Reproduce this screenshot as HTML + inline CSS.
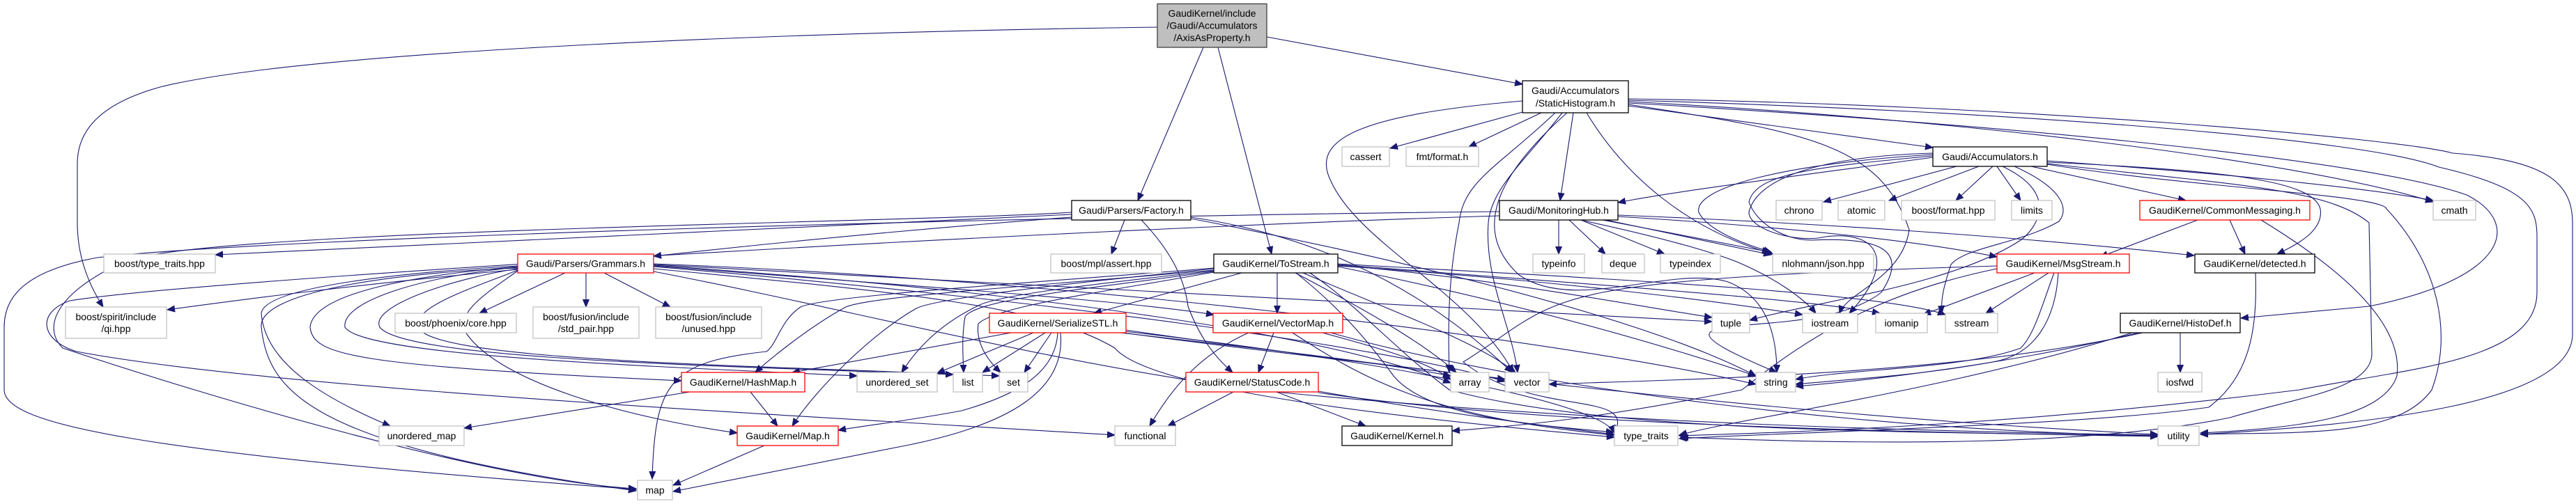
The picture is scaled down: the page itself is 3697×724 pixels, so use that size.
<!DOCTYPE html>
<html><head><meta charset="utf-8"><style>
html,body{margin:0;padding:0;background:#fff;}
svg{display:block;}
text{font-family:"Liberation Sans",sans-serif;font-size:14px;fill:#000;text-anchor:middle;}
.e{fill:none;stroke:#191970;stroke-width:1.1;marker-end:url(#a);}
.g{fill:#fff;stroke:#bfbfbf;stroke-width:1.2;}
.b{fill:#fff;stroke:#000;stroke-width:1.3;}
.r{fill:#fff;stroke:#ff0000;stroke-width:1.3;}
</style></head><body>
<svg width="3697" height="724" viewBox="0 0 3697 724" xmlns="http://www.w3.org/2000/svg">
<defs><marker id="a" markerUnits="userSpaceOnUse" markerWidth="12" markerHeight="10" refX="11" refY="5" orient="auto"><path d="M0,0.5 L11,5 L0,9.5 z" fill="#191970" stroke="#191970"/></marker></defs>

<!-- edges: root -->
<path class="e" d="M1661,39 C1200,45 450,70 230,125 C140,150 111,190 111,235 L111,320 C111,370 128,410 148,441"/>
<path class="e" d="M1727,68 L1633,288"/>
<path class="e" d="M1748,68 L1825,365"/>
<path class="e" d="M1818,53 L2185,121"/>

<!-- StaticHistogram -->
<path class="e" d="M2185,161 L1995,213"/>
<path class="e" d="M2212,162 L2108,211"/>
<path class="e" d="M2258,162 L2239,288"/>
<path class="e" d="M2232,162 C2150,240 2100,260 2094,320 C2078,400 2078,470 2080,535"/>
<path class="e" d="M2242,162 C2190,230 2140,270 2136,320 C2130,400 2170,470 2178,535"/>
<path class="e" d="M2185,145 C1950,165 1880,200 1910,260 C1950,350 2110,420 2172,535"/>
<path class="e" d="M2277,162 C2330,250 2420,330 2545,365"/>
<path class="e" d="M2249,162 C2150,250 2110,330 2180,395 C2260,450 2400,380 2480,405 C2545,430 2550,500 2550,535"/>
<path class="e" d="M2337,152 L2774,212"/>
<path class="e" d="M2337,146 C2800,170 3300,230 3492,290"/>
<path class="e" d="M2337,142 C2900,150 3450,200 3520,220 C3650,230 3692,260 3692,320 L3692,480 C3692,580 3400,610 3158,624"/>
<path class="e" d="M2337,144 C2900,160 3400,200 3500,240 C3630,270 3641,300 3641,340 L3641,420 C3641,520 3450,530 3300,560 C2900,610 2600,620 2410,626"/>
<path class="e" d="M2337,148 C2900,180 3400,230 3540,280 C3620,320 3600,400 3400,440 L3216,457"/>
<path class="e" d="M2337,150 C2600,190 2700,210 2740,330 C2730,400 2650,420 2640,450"/>

<!-- Accumulators -->
<path class="e" d="M2774,226 C2600,250 2400,275 2322,291"/>
<path class="e" d="M2808,239 L2617,290"/>
<path class="e" d="M2840,239 L2711,288"/>
<path class="e" d="M2860,239 L2807,288"/>
<path class="e" d="M2866,239 L2900,288"/>
<path class="e" d="M2915,239 L3137,288"/>
<path class="e" d="M2938,231 C3200,250 3400,270 3492,288"/>
<path class="e" d="M2938,233 C3200,245 3320,260 3330,300 C3335,330 3300,350 3268,365"/>
<path class="e" d="M2938,235 C3200,265 3340,270 3400,320 L3404,510 C3400,560 3300,570 3200,600 C3000,640 2700,640 2412,628"/>
<path class="e" d="M2938,236 C3150,270 3420,280 3425,300 C3500,380 3520,480 3490,560 C3440,630 3300,620 3158,624"/>
<path class="e" d="M2891,239 C2960,270 2970,300 2955,318 C2900,350 2820,355 2800,380 C2790,410 2785,430 2787,450"/>
<path class="e" d="M2874,239 C2960,280 2920,330 2900,345 C2800,410 2620,430 2511,460"/>
<path class="e" d="M2774,220 C2600,225 2520,260 2510,305 C2510,330 2580,350 2620,340 C2700,330 2720,380 2654,450"/>
<path class="e" d="M2774,222 C2560,235 2430,270 2438,305 C2450,330 2500,350 2542,362"/>
<path class="e" d="M2774,224 C2600,240 2520,250 2510,290 C2520,320 2560,345 2600,345 C2700,340 2740,360 2700,420 C2600,500 2300,430 2550,535"/>

<!-- MonitoringHub -->
<path class="e" d="M2237,316 L2237,365"/>
<path class="e" d="M2252,316 L2304,365"/>
<path class="e" d="M2269,316 L2389,365"/>
<path class="e" d="M2300,316 L2540,362"/>
<path class="e" d="M2305,316 L2542,366"/>
<path class="e" d="M2322,309 C2600,320 2900,340 3149,367"/>
<path class="e" d="M2322,311 C2550,325 2750,345 2866,369"/>
<path class="e" d="M2268,316 C2380,340 2450,360 2490,375 C2550,400 2590,430 2606,450"/>
<path class="e" d="M2152,304 C1500,310 400,340 140,370 C30,390 6,430 6,470 L6,560 C6,610 200,650 913,703"/>
<path class="e" d="M2152,310 C1500,330 300,400 100,432 C50,450 60,490 110,505 C400,560 1200,600 1600,625"/>

<!-- Factory -->
<path class="e" d="M1614,316 L1595,365"/>
<path class="e" d="M1538,308 C1000,330 600,350 309,366"/>
<path class="e" d="M1538,312 C1300,330 1100,350 938,368"/>
<path class="e" d="M1638,316 C1680,360 1700,400 1705,440 C1720,480 1740,510 1769,535"/>
<path class="e" d="M1709,312 C1900,340 2050,420 2170,535"/>
<path class="e" d="M1709,314 C1950,360 2350,450 2520,540"/>
<path class="e" d="M1538,305 C1300,320 300,330 180,375 C80,420 60,470 90,500 C300,570 700,690 913,702"/>

<!-- Grammars -->
<path class="e" d="M743,387 C500,410 350,430 240,445"/>
<path class="e" d="M811,392 L688,450"/>
<path class="e" d="M841,392 L841,441"/>
<path class="e" d="M867,392 L962,441"/>
<path class="e" d="M743,382 C600,390 380,410 375,450 C380,520 460,570 560,612"/>
<path class="e" d="M743,385 C560,392 370,420 375,470 C385,560 440,640 913,705"/>
<path class="e" d="M743,383 C600,395 450,420 445,470 C450,510 500,525 978,547"/>
<path class="e" d="M743,384 C620,395 490,430 495,470 C520,510 900,525 1230,540"/>
<path class="e" d="M743,386 C650,400 530,440 545,470 C580,515 1000,525 1368,538"/>
<path class="e" d="M743,388 C690,410 590,440 600,470 C620,520 1100,525 1434,540"/>
<path class="e" d="M743,389 C700,420 650,450 670,480 C720,550 900,600 1058,622"/>
<path class="e" d="M938,382 C1300,410 1600,430 1742,452"/>
<path class="e" d="M938,380 C1500,410 2200,450 2457,462"/>
<path class="e" d="M938,381 C1500,420 1900,480 2082,550"/>
<path class="e" d="M938,383 C1500,430 2000,500 2160,548"/>
<path class="e" d="M938,379 C1500,400 2200,480 2520,552"/>
<path class="e" d="M938,386 C1300,420 1500,440 1600,500 C1650,560 2000,600 2317,628"/>
<path class="e" d="M938,390 C1200,440 1500,520 1800,560 C2300,610 2800,620 3097,625"/>

<!-- ToStream -->
<path class="e" d="M1782,392 L1570,450"/>
<path class="e" d="M1833,392 L1833,450"/>
<path class="e" d="M1742,388 C1500,410 1250,425 1214,441 C1160,470 1100,520 1084,535"/>
<path class="e" d="M1742,386 C1500,410 1340,430 1315,443 C1250,480 1170,560 1137,612"/>
<path class="e" d="M1742,385 C1500,405 1180,425 1149,441 C1120,460 1115,495 1100,505 C960,520 940,550 936,688"/>
<path class="e" d="M1742,389 C1550,410 1430,425 1404,439 C1340,470 1310,510 1294,535"/>
<path class="e" d="M1742,390 C1560,415 1400,430 1385,455 C1380,485 1382,510 1383,535"/>
<path class="e" d="M1742,391 C1580,420 1430,440 1404,465 C1400,495 1420,520 1436,535"/>
<path class="e" d="M1859,392 C1950,440 2040,490 2090,535"/>
<path class="e" d="M1870,392 C1980,440 2120,490 2175,535"/>
<path class="e" d="M1920,383 C2200,440 2400,500 2520,540"/>
<path class="e" d="M1920,380 C2300,410 2600,430 2698,450"/>
<path class="e" d="M1920,379 C2300,400 2700,420 2792,452"/>
<path class="e" d="M1920,381 C2150,400 2350,440 2457,456"/>
<path class="e" d="M1920,382 C2200,400 2450,430 2587,452"/>
<path class="e" d="M1860,392 C1920,440 1960,485 2000,540 C2050,600 2200,610 2316,621"/>
<path class="e" d="M1880,392 C1950,440 2000,500 2080,560 C2300,620 2700,620 3097,626"/>

<!-- SerializeSTL -->
<path class="e" d="M1451,478 L1137,535"/>
<path class="e" d="M1483,478 L1345,536"/>
<path class="e" d="M1500,478 L1410,535"/>
<path class="e" d="M1509,478 L1470,535"/>
<path class="e" d="M1518,478 C1515,540 1450,570 1380,590 C1300,605 1250,610 1203,618"/>
<path class="e" d="M1522,478 C1530,560 1450,610 1300,640 C1150,670 1050,690 966,706"/>
<path class="e" d="M1608,478 C1800,500 1980,520 2082,540"/>
<path class="e" d="M1612,478 C1850,510 2050,530 2160,545"/>
<path class="e" d="M1614,476 C2000,520 2300,580 2317,622"/>
<path class="e" d="M1615,474 C2000,530 2600,600 3097,624"/>

<!-- VectorMap -->
<path class="e" d="M1828,478 L1806,535"/>
<path class="e" d="M1792,478 C1720,510 1680,560 1650,612"/>
<path class="e" d="M1898,478 C1980,500 2050,520 2082,545"/>
<path class="e" d="M1855,478 C1950,540 2050,600 2317,625"/>
<path class="e" d="M1910,478 C2200,560 2700,620 3097,626"/>

<!-- StatusCode -->
<path class="e" d="M1770,563 L1676,612"/>
<path class="e" d="M1832,563 L1960,612"/>
<path class="e" d="M1892,562 C2050,590 2200,610 2317,624"/>
<path class="e" d="M1892,564 C2200,610 2700,620 3097,627"/>

<!-- HashMap, Map.h -->
<path class="e" d="M1077,563 L1116,612"/>
<path class="e" d="M990,563 L666,615"/>
<path class="e" d="M1097,640 L966,697"/>

<!-- MsgStream -->
<path class="e" d="M2920,392 L2760,452"/>
<path class="e" d="M2940,392 L2850,450"/>
<path class="e" d="M2948,392 C2930,440 2920,480 2900,500 C2820,530 2650,530 2577,545"/>
<path class="e" d="M2954,392 C2950,460 2920,510 2860,520 C2750,540 2650,545 2577,552"/>
<path class="e" d="M2866,382 C2600,390 2400,400 2300,420 C2200,440 2180,470 2100,520 C2200,600 2350,560 2317,622"/>
<path class="e" d="M2866,386 C2700,420 2600,480 2500,560 C2300,600 2200,610 2084,619"/>
<!-- CommonMessaging -->
<path class="e" d="M3154,316 L3014,369"/>
<path class="e" d="M3200,316 L3222,365"/>
<path class="e" d="M3245,316 C3350,380 3450,460 3440,540 C3420,600 3300,615 3158,622"/>
<!-- detected -->
<path class="e" d="M3237,392 C3240,470 3230,540 3170,585 C3000,610 2600,620 2410,630"/>
<!-- HistoDef -->
<path class="e" d="M3129,478 L3129,535"/>
<path class="e" d="M3069,478 C2900,520 2700,545 2577,555"/>
<path class="e" d="M3075,478 C2800,540 2400,545 2223,552"/>
<path class="e" d="M3060,478 C2800,560 2500,600 2410,625"/>

<!-- nodes -->
<rect x="1661" y="5.5" width="157" height="62.5" fill="#bfbfbf" stroke="#404040" stroke-width="1.3"/>
<text x="1739.5" y="24">GaudiKernel/include</text><text x="1739.5" y="41.5">/Gaudi/Accumulators</text><text x="1739.5" y="59">/AxisAsProperty.h</text>

<rect class="b" x="2185" y="116" width="152" height="46"/>
<text x="2261" y="135">Gaudi/Accumulators</text><text x="2261" y="153">/StaticHistogram.h</text>

<rect class="b" x="2774" y="211" width="164" height="28"/><text x="2856" y="230">Gaudi/Accumulators.h</text>
<rect class="g" x="1926" y="211" width="68" height="28"/><text x="1960" y="230">cassert</text>
<rect class="g" x="2018" y="211" width="104" height="28"/><text x="2070" y="230">fmt/format.h</text>

<rect class="b" x="1538" y="288" width="171" height="28"/><text x="1623.5" y="307">Gaudi/Parsers/Factory.h</text>
<rect class="b" x="2152" y="288" width="170" height="28"/><text x="2237" y="307">Gaudi/MonitoringHub.h</text>
<rect class="g" x="2549" y="288" width="66" height="28"/><text x="2582" y="307">chrono</text>
<rect class="g" x="2638" y="288" width="67" height="28"/><text x="2671.5" y="307">atomic</text>
<rect class="g" x="2729" y="288" width="134" height="28"/><text x="2796" y="307">boost/format.hpp</text>
<rect class="g" x="2887" y="288" width="58" height="28"/><text x="2916" y="307">limits</text>
<rect class="r" x="3071" y="288" width="244" height="28"/><text x="3193" y="307">GaudiKernel/CommonMessaging.h</text>
<rect class="g" x="3492" y="288" width="61" height="28"/><text x="3522.5" y="307">cmath</text>

<rect class="g" x="149" y="365" width="160" height="27"/><text x="229" y="383.5">boost/type_traits.hpp</text>
<rect class="r" x="743" y="365" width="195" height="27"/><text x="840.5" y="383.5">Gaudi/Parsers/Grammars.h</text>
<rect class="g" x="1508" y="365" width="159" height="27"/><text x="1587.5" y="383.5">boost/mpl/assert.hpp</text>
<rect class="b" x="1742" y="365" width="178" height="27"/><text x="1831" y="383.5">GaudiKernel/ToStream.h</text>
<rect class="g" x="2200" y="365" width="74" height="27"/><text x="2237" y="383.5">typeinfo</text>
<rect class="g" x="2299" y="365" width="61" height="27"/><text x="2329.5" y="383.5">deque</text>
<rect class="g" x="2383" y="365" width="86" height="27"/><text x="2426" y="383.5">typeindex</text>
<rect class="g" x="2544" y="365" width="145" height="27"/><text x="2616.5" y="383.5">nlohmann/json.hpp</text>
<rect class="r" x="2866" y="365" width="190" height="27"/><text x="2961" y="383.5">GaudiKernel/MsgStream.h</text>
<rect class="b" x="3150" y="365" width="172" height="27"/><text x="3236" y="383.5">GaudiKernel/detected.h</text>

<rect class="g" x="94" y="441" width="145" height="45"/><text x="166.5" y="460">boost/spirit/include</text><text x="166.5" y="477">/qi.hpp</text>
<rect class="g" x="567" y="450" width="174" height="28"/><text x="654" y="469">boost/phoenix/core.hpp</text>
<rect class="g" x="765" y="441" width="152" height="45"/><text x="841" y="460">boost/fusion/include</text><text x="841" y="477">/std_pair.hpp</text>
<rect class="g" x="941" y="441" width="152" height="45"/><text x="1017" y="460">boost/fusion/include</text><text x="1017" y="477">/unused.hpp</text>
<rect class="r" x="1420" y="450" width="196" height="28"/><text x="1518" y="469">GaudiKernel/SerializeSTL.h</text>
<rect class="r" x="1741" y="450" width="186" height="28"/><text x="1834" y="469">GaudiKernel/VectorMap.h</text>
<rect class="g" x="2457" y="450" width="54" height="28"/><text x="2484" y="469">tuple</text>
<rect class="g" x="2587" y="450" width="79" height="28"/><text x="2626.5" y="469">iostream</text>
<rect class="g" x="2692" y="450" width="74" height="28"/><text x="2729" y="469">iomanip</text>
<rect class="g" x="2792" y="450" width="75" height="28"/><text x="2829.5" y="469">sstream</text>
<rect class="b" x="3043" y="450" width="172" height="28"/><text x="3129" y="469">GaudiKernel/HistoDef.h</text>

<rect class="r" x="978" y="535" width="177" height="28"/><text x="1066.5" y="554">GaudiKernel/HashMap.h</text>
<rect class="g" x="1230" y="535" width="115" height="28"/><text x="1287.5" y="554">unordered_set</text>
<rect class="g" x="1368" y="535" width="42" height="28"/><text x="1389" y="554">list</text>
<rect class="g" x="1434" y="535" width="41" height="28"/><text x="1454.5" y="554">set</text>
<rect class="r" x="1702" y="535" width="190" height="28"/><text x="1797" y="554">GaudiKernel/StatusCode.h</text>
<rect class="g" x="2082" y="535" width="55" height="28"/><text x="2109.5" y="554">array</text>
<rect class="g" x="2160" y="535" width="63" height="28"/><text x="2191.5" y="554">vector</text>
<rect class="g" x="2520" y="535" width="57" height="28"/><text x="2548.5" y="554">string</text>
<rect class="g" x="3097" y="535" width="63" height="28"/><text x="3128.5" y="554">iosfwd</text>

<rect class="g" x="544" y="612" width="122" height="28"/><text x="605" y="631">unordered_map</text>
<rect class="r" x="1058" y="612" width="145" height="28"/><text x="1130.5" y="631">GaudiKernel/Map.h</text>
<rect class="g" x="1600" y="612" width="87" height="28"/><text x="1643.5" y="631">functional</text>
<rect class="b" x="1926" y="612" width="158" height="28"/><text x="2005" y="631">GaudiKernel/Kernel.h</text>
<rect class="g" x="2317" y="612" width="91" height="28"/><text x="2362.5" y="631">type_traits</text>
<rect class="g" x="3097" y="612" width="59" height="28"/><text x="3126.5" y="631">utility</text>

<rect class="g" x="915" y="690" width="50" height="28"/><text x="940" y="709">map</text>
</svg>
</body></html>
